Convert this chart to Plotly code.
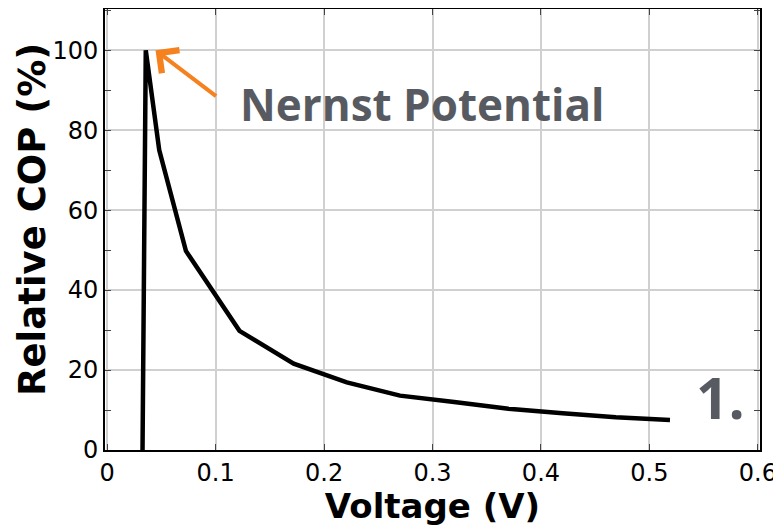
import plotly.graph_objects as go

voltage = [0.0326, 0.0356, 0.048, 0.0726, 0.122, 0.172, 0.221, 0.270, 0.320, 0.370, 0.420, 0.469, 0.519]
rel_cop = [0, 100, 75, 49.8, 29.8, 21.6, 16.9, 13.6, 12.0, 10.3, 9.2, 8.2, 7.5]

x_ticks = [0, 0.1, 0.2, 0.3, 0.4, 0.5, 0.6]
x_tick_labels = ["0", "0.1", "0.2", "0.3", "0.4", "0.5", "0.6"]
y_ticks = [0, 20, 40, 60, 80, 100]

peak_x, peak_y = voltage[1], rel_cop[1]

# page body has an 8px margin, so the figure is drawn 8px right and down
OFF = 8
W, H = 781 - OFF, 526 - OFF
L, T = 105 - OFF, 9 - OFF
R = W - (760 - OFF)
B = H - (450 - OFF)
PW, PH = W - L - R, H - T - B

fig = go.Figure()
fig.add_trace(go.Scatter(x=voltage, y=rel_cop, mode="lines",
                         line=dict(color="black", width=4.5), showlegend=False))

tick_font = dict(family="DejaVu Sans", size=24, color="black")
axis_common = dict(showline=True, linecolor="black", linewidth=2, mirror="ticks",
                   ticks="inside", ticklen=6, tickcolor="#444", tickwidth=1,
                   showgrid=True, gridcolor="#d0d0d0", gridwidth=1.5,
                   zeroline=False, tickfont=tick_font, automargin=False)

fig.update_xaxes(range=[-0.002, 0.602], tickvals=x_ticks, ticktext=x_tick_labels,
                 title=dict(text="<b>Voltage (V)</b>", font=dict(family="DejaVu Sans", size=34, color="black"), standoff=0),
                 **axis_common)
fig.update_yaxes(range=[0, 110.3], tickvals=y_ticks,
                 minor=dict(tickvals=[10, 30, 50, 70, 90, 110], ticks="inside", ticklen=6, tickcolor="#444", showgrid=False),
                 **axis_common)

# y-axis title as a rotated annotation (centred slightly above the plot centre, as in the reference)
fig.add_annotation(xref="paper", yref="paper", x=(32 - OFF - L) / PW, y=(H - B - (220 - OFF)) / PH,
                   xanchor="center", yanchor="middle", showarrow=False, textangle=-90,
                   text="<b>Relative COP (%)</b>",
                   font=dict(family="DejaVu Sans", size=37, color="black"))

fig.add_annotation(x=peak_x + 0.009, y=peak_y, ax=62, ay=47, axref="pixel", ayref="pixel",
                   xref="x", yref="y", showarrow=True, arrowhead=4, arrowsize=1.4,
                   arrowwidth=4, arrowcolor="#f5821f", text="")
fig.add_annotation(xref="paper", yref="paper", x=(238 - OFF - L) / PW, y=(H - B - (104 - OFF)) / PH,
                   xanchor="left", yanchor="middle", showarrow=False,
                   text="<b>Nernst Potential</b>",
                   font=dict(family="Open Sans", size=44, color="#575b61"))
fig.add_annotation(xref="paper", yref="paper", x=(747 - OFF - L) / PW, y=(H - B - (397 - OFF)) / PH,
                   xanchor="right", yanchor="middle", showarrow=False,
                   text="<b>1.</b>",
                   font=dict(family="Open Sans", size=57, color="#575b61"))

fig.update_layout(width=W, height=H, paper_bgcolor="white", plot_bgcolor="white",
                  margin=dict(l=L, r=R, t=T, b=B))
fig.write_html("out.html")
